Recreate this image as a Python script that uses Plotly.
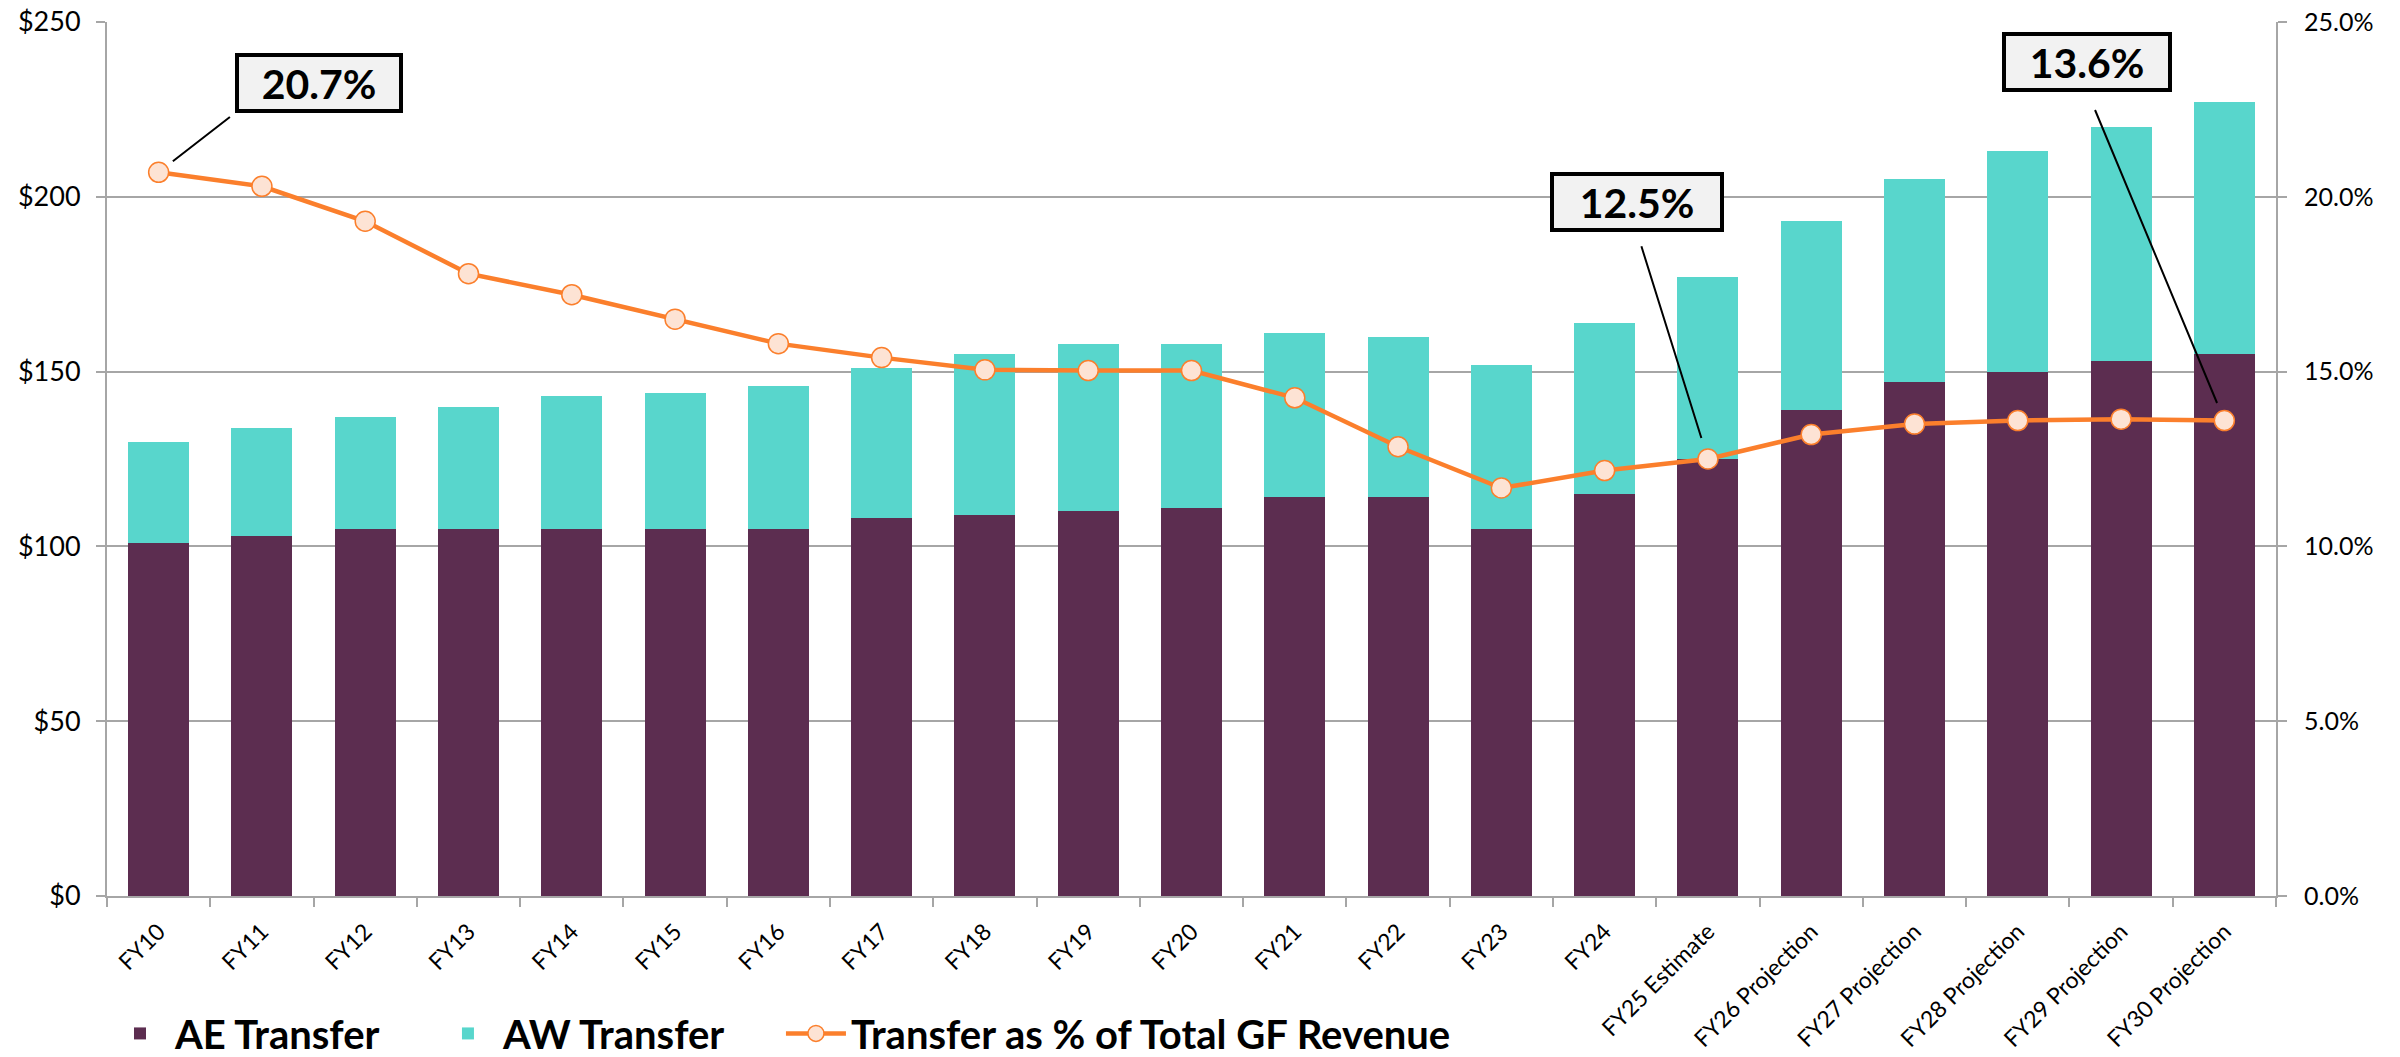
import plotly.graph_objects as go

categories = ["FY10", "FY11", "FY12", "FY13", "FY14", "FY15", "FY16", "FY17", "FY18", "FY19",
              "FY20", "FY21", "FY22", "FY23", "FY24", "FY25 Estimate", "FY26 Projection",
              "FY27 Projection", "FY28 Projection", "FY29 Projection", "FY30 Projection"]
ae_transfer = [101, 103, 105, 105, 105, 105, 105, 108, 109, 110, 111, 114, 114, 105, 115, 125,
               139, 147, 150, 153, 155]
total_transfer = [130, 134, 137, 140, 143, 144, 146, 151, 155, 158, 158, 161, 160, 152, 164, 177,
                  193, 205, 213, 220, 227]
aw_transfer = [t - a for t, a in zip(total_transfer, ae_transfer)]
pct_of_gf = [20.7, 20.3, 19.3, 17.8, 17.2, 16.5, 15.8, 15.4, 15.05, 15.03, 15.03, 14.25, 12.85,
             11.67, 12.17, 12.5, 13.2, 13.5, 13.6, 13.64, 13.6]

y_ticks = [0, 50, 100, 150, 200, 250]
y_ticktext = ["$0", "$50", "$100", "$150", "$200", "$250"]
y2_ticks = [0, 5, 10, 15, 20, 25]
y2_ticktext = ["0.0%", "5.0%", "10.0%", "15.0%", "20.0%", "25.0%"]

AE_COLOR = "#5C2D50"
AW_COLOR = "#58D6CC"
LINE_COLOR = "#FB7F2C"
MARKER_FILL = "#FDE3D4"
GRID = "#A6A6A6"
FONT = "Lato"

FIG_W, FIG_H = 2400, 1057

fig = go.Figure()
fig.add_trace(go.Bar(x=categories, y=ae_transfer, name="AE Transfer", legend="legend",
                     showlegend=True,
                     marker=dict(color=AE_COLOR, line=dict(width=0))))
fig.add_trace(go.Bar(x=categories, y=aw_transfer, name="AW Transfer", legend="legend2",
                     showlegend=True,
                     marker=dict(color=AW_COLOR, line=dict(width=0))))
fig.add_trace(go.Scatter(x=categories, y=pct_of_gf, name="Transfer as % of Total GF Revenue",
                         legend="legend3", showlegend=True,
                         yaxis="y2", mode="lines+markers",
                         line=dict(color=LINE_COLOR, width=4.5),
                         marker=dict(size=20, color=MARKER_FILL,
                                     line=dict(color=LINE_COLOR, width=1.5))))

callouts = [
    dict(idx=0, ax=76, ay=-59, xanchor="left", width=156, standoff=18, start=6),
    dict(idx=15, ax=-71, ay=-227, xanchor="center", width=162, standoff=22, start=15),
    dict(idx=20, ax=-137, ay=-329, xanchor="center", width=158, standoff=19, start=20),
]
annotations = []
for c in callouts:
    annotations.append(dict(
        x=categories[c["idx"]], y=pct_of_gf[c["idx"]], xref="x", yref="y2",
        text="<b>%.1f%%</b>" % round(pct_of_gf[c["idx"]], 1),
        font=dict(family=FONT, size=41, color="black"),
        showarrow=True, arrowhead=0, arrowwidth=2, arrowcolor="black",
        ax=c["ax"], ay=c["ay"], axref="pixel", ayref="pixel",
        xanchor=c["xanchor"], yanchor="bottom",
        bgcolor="#F2F2F2", bordercolor="black", borderwidth=4, borderpad=2,
        width=c["width"], height=48,
        standoff=c["standoff"], startstandoff=c["start"],
    ))

legend_common = dict(
    orientation="h", xref="container", yref="container",
    xanchor="left", y=0.0223, yanchor="middle",
    font=dict(family=FONT, size=40, color="black", weight="bold"),
    itemwidth=60, bgcolor="rgba(0,0,0,0)",
)

fig.update_layout(
    width=FIG_W, height=FIG_H, showlegend=True,
    margin=dict(l=107, r=124, t=22, b=161, autoexpand=False),
    paper_bgcolor="white", plot_bgcolor="white",
    barmode="stack", bargap=0.41,
    font=dict(family=FONT, size=26, color="black"),
    xaxis=dict(
        type="category", range=[-0.5, len(categories) - 0.5], autorange=False,
        tickangle=-45, tickson="boundaries",
        ticks="outside", ticklen=9, tickcolor=GRID, tickwidth=2,
        showline=True, linecolor=GRID, linewidth=2,
        tickfont=dict(family=FONT, size=23, color="black"),
        ticklabelstandoff=11, automargin=False, ticklabeloverflow="allow",
        showgrid=False,
    ),
    yaxis=dict(
        range=[0, 250], autorange=False, tickvals=y_ticks, ticktext=y_ticktext,
        showgrid=True, gridcolor=GRID, gridwidth=2,
        showline=True, linecolor=GRID, linewidth=2,
        ticks="outside", ticklen=9, tickcolor=GRID, tickwidth=2,
        tickfont=dict(family=FONT, size=27, color="black"),
        ticklabelstandoff=10, zeroline=False, automargin=False,
        ticklabeloverflow="allow",
    ),
    yaxis2=dict(
        range=[0, 25], autorange=False, tickvals=y2_ticks, ticktext=y2_ticktext,
        overlaying="y", side="right", showgrid=False,
        showline=True, linecolor=GRID, linewidth=2,
        ticks="outside", ticklen=9, tickcolor=GRID, tickwidth=2,
        tickfont=dict(family=FONT, size=25, color="black"),
        ticklabelstandoff=12, zeroline=False, automargin=False,
        ticklabeloverflow="allow",
    ),
    legend=dict(x=0.04375, **legend_common),
    legend2=dict(x=0.1804, **legend_common),
    legend3=dict(x=0.3254, **legend_common),
    annotations=annotations,
)

# remove the browser's default page margin so the figure fills the window exactly
fig.write_html("out.html", config={"displayModeBar": False},
               post_script="document.body.style.margin='0';document.body.style.overflow='hidden';")
